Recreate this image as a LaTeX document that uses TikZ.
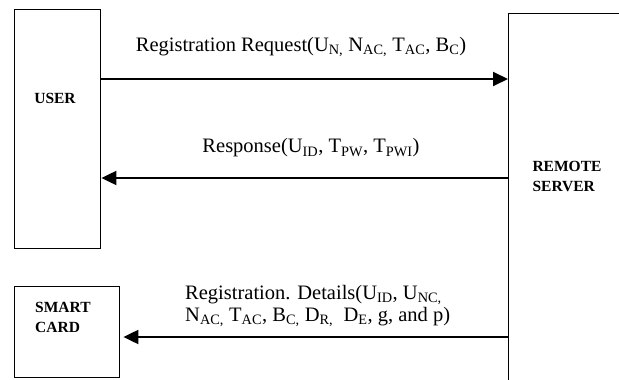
\documentclass[tikz,border=0pt]{standalone}
\usepackage{fontspec}
\setmainfont{Liberation Serif}
\usetikzlibrary{arrows.meta,positioning}
\newcommand{\sbs}[1]{\textsubscript{#1}}

\begin{document}
\begin{tikzpicture}[x=1pt,y=-1pt,
  party/.style={shape=rectangle,draw=black,line width=1.4pt,anchor=north west,inner sep=0pt},
  flow/.style={draw=black,line width=2pt,-{Triangle[length=15pt,width=14pt]}},
  msg/.style={font=\fontsize{20.5}{22.5}\selectfont,inner sep=0pt,align=left},
  tag/.style={font=\fontsize{15.5}{20}\selectfont\bfseries,inner sep=0pt,align=left}
]
  \useasboundingbox (0,0) rectangle (619,380);

  \node[party,minimum width=86pt,minimum height=239pt]  (user)   at (14,9)   {};
  \node[party,minimum width=140pt,minimum height=400pt] (server) at (508,13)  {};
  \node[party,minimum width=105pt,minimum height=91pt]  (card)   at (14,286) {};

  \node[tag] (usertag) at (55,98) {USER};
  \node[tag] (servertag) at (567,176) {REMOTE\\SERVER};
  \node[tag,anchor=west] (cardtag) at (35,317) {SMART\\CARD};

  \draw[flow] (user.east |- 0,79) -- (server.west |- 0,79);
  \node[msg] (request) at (301,47)
    {Registration Request(U\sbs{N,} N\sbs{AC,} T\sbs{AC}, B\sbs{C})};

  \draw[flow] (server.west |- 0,178) -- (user.east |- 0,178);
  \node[msg] (response) at (311,148)
    {Response(U\sbs{ID}, T\sbs{PW}, T\sbs{PWI})};

  \draw[flow,shorten >=3pt] (server.west |- 0,337) -- (card.east |- 0,337);
  \node[msg,anchor=west] (details) at (185,306)
    {Registration. Details(U\sbs{ID}, U\sbs{NC,}\\
     N\sbs{AC,} T\sbs{AC}, B\sbs{C,} D\sbs{R,} \ D\sbs{E}, g, and p)};
\end{tikzpicture}
\end{document}
